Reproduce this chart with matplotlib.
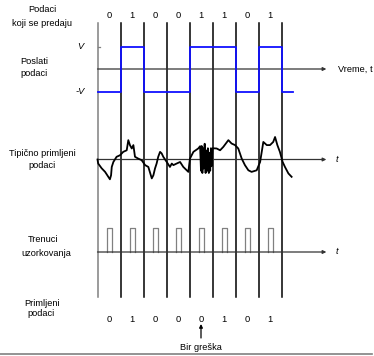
import numpy as np
import matplotlib
matplotlib.use('Agg')
import matplotlib.pyplot as plt

plt.rcParams['font.family'] = ['Liberation Sans', 'DejaVu Sans']

# data
sent_bits = [0, 1, 0, 0, 1, 1, 0, 1]
recv_bits = [0, 1, 0, 0, 0, 1, 0, 1]
error_bit = 4
# received waveform: time (bit periods), amplitude (in units of V)
wave_t = [0.00, 0.03, 0.18, 0.33, 0.47, 0.54, 0.59, 0.62, 0.69, 0.83, 0.98, 1.12, 1.27,
          1.34, 1.41, 1.49, 1.56, 1.63, 1.77, 1.92, 2.07, 2.21, 2.36, 2.43, 2.50, 2.57,
          2.64, 2.72, 2.79, 2.86, 3.01, 3.15, 3.23, 3.30, 3.44, 3.59, 3.73, 3.95, 4.02,
          4.17, 4.38, 4.46, 4.50, 4.53, 4.56, 4.59, 4.62, 4.66, 4.70, 4.73, 4.77, 4.80,
          4.84, 4.87, 4.90, 4.93, 4.96, 5.00, 5.18, 5.33, 5.47, 5.69, 5.83, 5.98, 6.12,
          6.27, 6.41, 6.56, 6.70, 6.92, 7.07, 7.21, 7.36, 7.50, 7.64, 7.72, 7.82, 7.93,
          8.05, 8.15, 8.30, 8.44]
wave_v = [0.00, -0.18, -0.39, -0.55, -0.77, -0.88, -0.70, -0.33, -0.11, 0.12, 0.19, 0.34, 0.41,
          0.86, 0.64, 0.49, 0.64, 0.12, 0.04, -0.03, -0.25, -0.33, -0.84, -0.70, -0.40, -0.18,
          0.12, 0.34, 0.27, 0.12, -0.11, -0.33, -0.18, -0.25, -0.18, -0.11, -0.33, -0.55, 0.04,
          0.34, 0.49, 0.59, -0.50, 0.60, -0.60, 0.50, -0.40, 0.70, -0.60, 0.40, -0.50, 0.50,
          -0.60, 0.30, -0.50, 0.50, -0.30, 0.50, 0.49, 0.41, 0.56, 0.86, 0.71, 0.64, 0.49,
          0.04, -0.25, -0.48, -0.55, -0.48, -0.11, 0.78, 0.64, 0.64, 0.78, 1.00, 0.64, 0.34,
          -0.11, -0.33, -0.62, -0.77]

n = len(sent_bits)
# layout (pixel rows)
y_send, y_recv, y_samp = 69, 159.5, 252
amp = 22.5
fs = 6.7

fig = plt.figure(figsize=(3.74, 3.56), dpi=100)
ax = fig.add_axes([0, 0, 1, 1])
ax.set_xlim(-97.5 / 23, (374 - 97.5) / 23)
ax.set_ylim(356, 0)
ax.axis('off')

# bit boundaries
for i in range(n + 1):
    ax.plot([i, i], [23, 297], color='gray' if i == 0 else 'black', lw=1.1, zorder=1)

# time axes
for yb, lab in [(y_send, 'Vreme, t'), (y_recv, 't'), (y_samp, 't')]:
    ax.annotate('', xy=(9.95, yb), xytext=(0, yb),
                arrowprops=dict(arrowstyle='-|>', color='#333333', lw=0.9,
                                mutation_scale=5, shrinkA=0, shrinkB=0))
    ax.text(10.45 if lab != 't' else 10.35, yb, lab, fontsize=fs, va='center', ha='left',
            style='normal' if lab != 't' else 'italic')

# sent signal
lev = [1 if b else -1 for b in sent_bits]
st = list(range(n + 1)) + [8.5]
sv = np.array(lev + [-1, -1])
ax.step(st, y_send - amp * sv, where='post', color='#1010ff', lw=1.3, zorder=3)
ax.plot([0, 0.1], [y_send - amp, y_send - amp], color='gray', lw=0.9)
ax.text(-0.75, y_send - amp, 'V', fontsize=fs, style='italic', ha='center', va='center')
ax.text(-0.75, y_send + amp, '-V', fontsize=fs, style='italic', ha='center', va='center')

# received waveform
ax.plot(wave_t, y_recv - amp * np.array(wave_v), color='black', lw=1.3, zorder=3)

# sampling pulses
for i in range(n):
    c = i + 0.52
    ax.plot([c - 0.11, c - 0.11, c + 0.11, c + 0.11], [y_samp, 228, 228, y_samp],
            color='gray', lw=0.9, zorder=2)

# bit labels
for i in range(n):
    ax.text(i + 0.5, 16, str(sent_bits[i]), fontsize=fs, ha='center', va='center')
    ax.text(i + 0.5, 320, str(recv_bits[i]), fontsize=fs, ha='center', va='center')

# error arrow
ax.annotate('', xy=(error_bit + 0.5, 324), xytext=(error_bit + 0.5, 338),
            arrowprops=dict(arrowstyle='-|>', color='black', lw=0.9, mutation_scale=5,
                            shrinkA=0, shrinkB=0))
ax.text(error_bit + 0.5, 347, 'Bir greška', fontsize=fs, ha='center', va='center')

# row labels
xl = -55.5 / 23
ax.text(xl, 10, 'Podaci', fontsize=fs, ha='center', va='center')
ax.text(xl, 24, 'koji se predaju', fontsize=fs, ha='center', va='center')
ax.text(-63.5 / 23, 62, 'Poslati', fontsize=fs, ha='center', va='center')
ax.text(-63.5 / 23, 73, 'podaci', fontsize=fs, ha='center', va='center')
ax.text(xl, 153, 'Tipično primljeni', fontsize=fs, ha='center', va='center')
ax.text(xl, 165, 'podaci', fontsize=fs, ha='center', va='center')
ax.text(-54 / 23, 240, 'Trenuci', fontsize=fs, ha='center', va='center')
ax.text(-51 / 23, 253, 'uzorkovanja', fontsize=fs, ha='center', va='center')
ax.text(-55 / 23, 303, 'Primljeni', fontsize=fs, ha='center', va='center')
ax.text(-56 / 23, 314, 'podaci', fontsize=fs, ha='center', va='center')

# bottom rule
ax.plot([-97.5 / 23, 372 / 23 - 97.5 / 23], [354, 354], color='gray', lw=1.2)

fig.savefig('out.png', dpi=100)
